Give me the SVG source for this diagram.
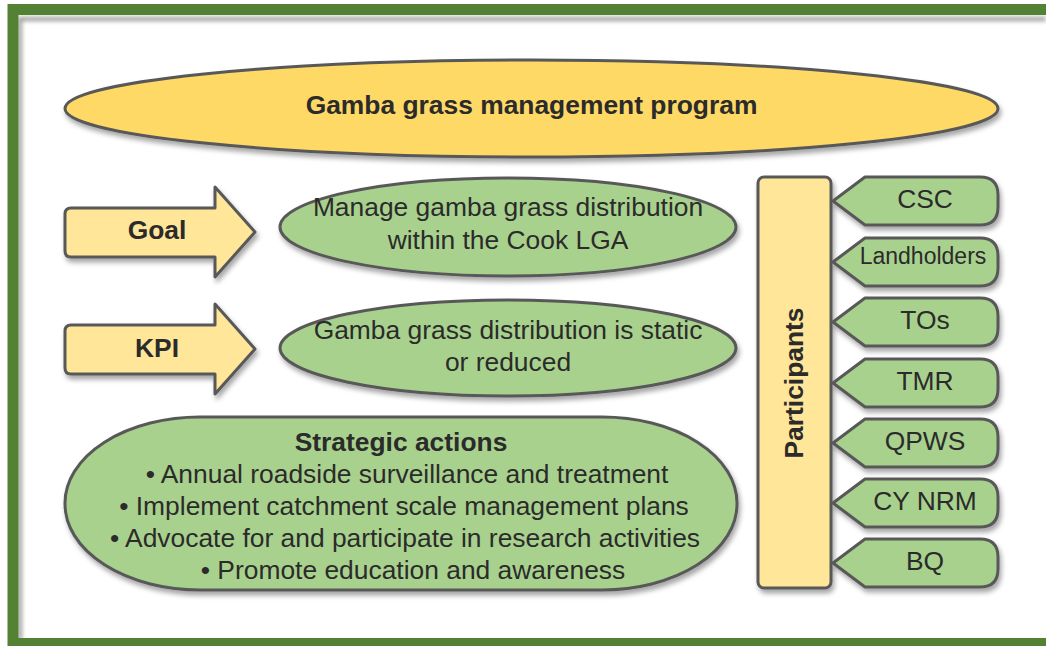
<svg xmlns="http://www.w3.org/2000/svg" width="1046" height="646" viewBox="0 0 1046 646">
<style>
.sh{stroke:#595959;stroke-width:3;stroke-linejoin:round}
.yel{fill:#FFD966}
.lyel{fill:#FFE699}
.grn{fill:#A9D18E}
text{font-family:"Liberation Sans",Arial,sans-serif;font-size:26.4px;fill:#2b2b2b;text-anchor:middle}
.b{font-weight:bold}
</style>
<defs>
<filter id="ds" x="-10%" y="-10%" width="130%" height="140%">
<feDropShadow dx="2" dy="4" stdDeviation="2.5" flood-color="#000" flood-opacity="0.35"/>
</filter>
<filter id="blur"><feGaussianBlur stdDeviation="2"/></filter>
</defs>
<rect width="1046" height="646" fill="#fff"/>
<g id="frame">
<path d="M20 640 L20 19 L1046 19" fill="none" stroke="#999" stroke-width="4" filter="url(#blur)"/>
<rect x="13" y="9.5" width="1050" height="634" fill="none" stroke="#548235" stroke-width="11"/>
</g>
<g id="title" filter="url(#ds)">
<ellipse class="sh yel" cx="531.5" cy="108.5" rx="466.5" ry="48.5"/>
</g>
<text class="b" x="531.5" y="114">Gamba grass management program</text>
<g id="goal">
<path class="sh lyel" filter="url(#ds)" d="M71 208 L215 208 L215 187 L255 232 L215 277 L215 257 L71 257 Q65 257 65 251 L65 214 Q65 208 71 208 Z"/>
<text class="b" x="157" y="239">Goal</text>
</g>
<g id="kpi">
<path class="sh lyel" filter="url(#ds)" d="M71 325 L215 325 L215 304 L255 349 L215 394 L215 374 L71 374 Q65 374 65 368 L65 331 Q65 325 71 325 Z"/>
<text class="b" x="157" y="357">KPI</text>
</g>
<g id="goal-text">
<ellipse class="sh grn" filter="url(#ds)" cx="508" cy="227" rx="228" ry="49"/>
<text x="508" y="216">Manage gamba grass distribution</text>
<text x="508" y="249">within the Cook LGA</text>
</g>
<g id="kpi-text">
<ellipse class="sh grn" filter="url(#ds)" cx="508" cy="348" rx="228" ry="48"/>
<text x="508" y="339">Gamba grass distribution is static</text>
<text x="508" y="371">or reduced</text>
</g>
<g id="strategic">
<rect class="sh grn" filter="url(#ds)" x="65" y="417" width="672" height="173" rx="135" ry="86"/>
<text class="b" x="401" y="451">Strategic actions</text>
<text x="407" y="483">• Annual roadside surveillance and treatment</text>
<text x="404" y="515">• Implement catchment scale management plans</text>
<text x="405" y="547">• Advocate for and participate in research activities</text>
<text x="413" y="579">• Promote education and awareness</text>
</g>
<g id="participants">
<rect class="sh lyel" filter="url(#ds)" x="758" y="177" width="73" height="411" rx="6"/>
<text class="b" transform="translate(794,383) rotate(-90)" x="0" y="9">Participants</text>
</g>
<g id="tags">
<g id="csc"><path class="sh grn" filter="url(#ds)" d="M833 201 L865 177 L980 177 Q998 177 998 195 L998 207 Q998 225 980 225 L865 225 Z"/><text x="925" y="208">CSC</text></g>
<g id="landholders"><path class="sh grn" filter="url(#ds)" d="M833 262 L865 238 L980 238 Q998 238 998 256 L998 268 Q998 286 980 286 L865 286 Z"/><text x="923" y="264" style="font-size:23px">Landholders</text></g>
<g id="tos"><path class="sh grn" filter="url(#ds)" d="M833 322 L865 298 L980 298 Q998 298 998 316 L998 328 Q998 346 980 346 L865 346 Z"/><text x="925" y="329">TOs</text></g>
<g id="tmr"><path class="sh grn" filter="url(#ds)" d="M833 383 L865 359 L980 359 Q998 359 998 377 L998 389 Q998 407 980 407 L865 407 Z"/><text x="925" y="390">TMR</text></g>
<g id="qpws"><path class="sh grn" filter="url(#ds)" d="M833 443 L865 419 L980 419 Q998 419 998 437 L998 449 Q998 467 980 467 L865 467 Z"/><text x="925" y="450">QPWS</text></g>
<g id="cynrm"><path class="sh grn" filter="url(#ds)" d="M833 503 L865 479 L980 479 Q998 479 998 497 L998 509 Q998 527 980 527 L865 527 Z"/><text x="925" y="510">CY NRM</text></g>
<g id="bq"><path class="sh grn" filter="url(#ds)" d="M833 563 L865 539 L980 539 Q998 539 998 557 L998 569 Q998 587 980 587 L865 587 Z"/><text x="925" y="570">BQ</text></g>
</g>
<g id="connectors"></g>
</svg>
